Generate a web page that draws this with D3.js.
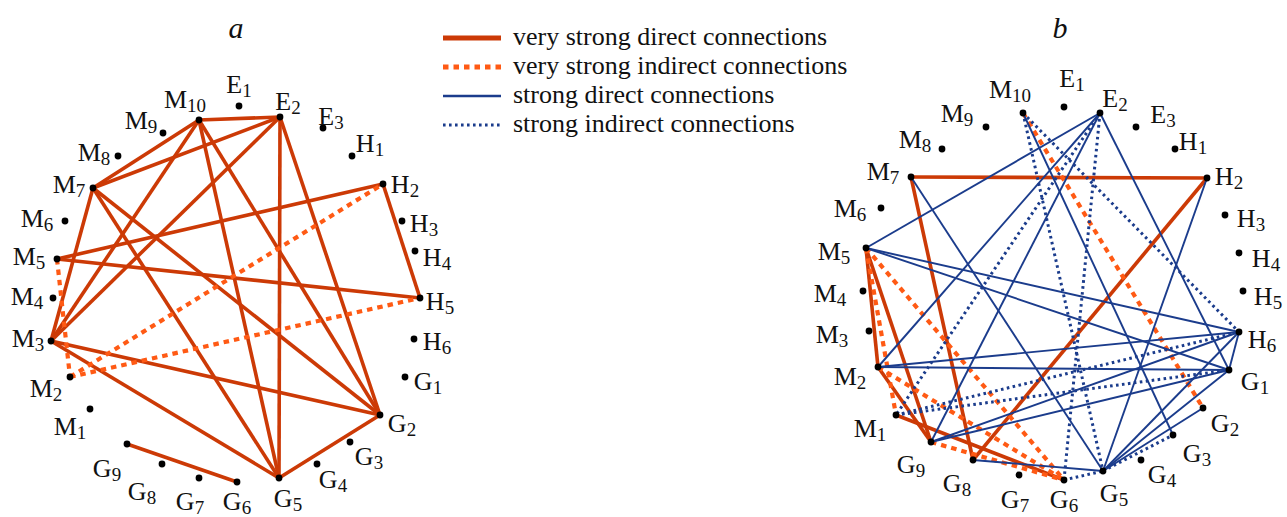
<!DOCTYPE html>
<html><head><meta charset="utf-8">
<script src="https://cdn.jsdelivr.net/npm/d3@7"></script>
<style>
body{margin:0;background:#fff}
svg text{font-family:"Liberation Serif","Times New Roman",serif;fill:#111}
</style>
</head><body>
<svg id="chart" width="1287" height="517"></svg>
<script>
// ---------- data ----------
const nodeIds = ["M1","M2","M3","M4","M5","M6","M7","M8","M9","M10","E1","E2","E3","H1","H2","H3","H4","H5","H6","G1","G2","G3","G4","G5","G6","G7","G8","G9"];
// node layout (units relative to panel centre)
const layoutA = [[-146,109],[-166,77],[-185,41],[-183,-2],[-179,-41],[-171,-79],[-143,-112],[-118,-144],[-73,-167],[-37,-180],[3,-194],[44,-183],[87,-172],[116,-144],[147,-116],[166,-79],[179,-49],[184,-2],[178,39],[169,77],[144,115],[114,142],[81,164],[43,178],[1,182],[-37,178],[-74,164],[-109,144]];
const layoutB = [[-158,120],[-176,72],[-185,36],[-191,-4],[-188,-47],[-173,-87],[-143,-118],[-112,-146],[-68,-168],[-31,-182],[10,-188],[46,-182],[82,-168],[121,-146],[153,-117],[171,-80],[185,-42],[189,-4],[185,37],[175,75],[149,113],[119,140],[87,165],[49,176],[10,185],[-35,180],[-81,165],[-123,147]];
// label offsets (centre x, baseline y) relative to node
const labelA = [[-20,26],[-24,20],[-23,6],[-26,7],[-28,6],[-28,6],[-24,5],[-24,5],[-22,-4],[-14,-12],[0,-13],[8,-7],[8,-3],[18,-4],[22,9],[22,11],[22,15],[20,12],[23,11],[23,13],[22,17],[19,23],[16,24],[9,29],[0,28],[-9,32],[-20,36],[-20,33]];
const labelB = [[-26,22],[-28,18],[-37,12],[-33,11],[-32,12],[-31,9],[-28,3],[-27,-1],[-29,-5],[-13,-15],[8,-20],[15,-6],[27,-4],[18,1],[22,7],[26,12],[27,14],[25,14],[23,16],[26,20],[22,24],[24,27],[21,23],[11,31],[0,28],[-4,33],[-16,32],[-20,31]];

const edgesA_veryStrongDirect = [["M10","E2"],["M10","M7"],["M10","M3"],["M10","G5"],["M10","G2"],["E2","M7"],["E2","M3"],["E2","G5"],["E2","G2"],["M7","M3"],["M7","G5"],["M7","G2"],["M5","H2"],["M5","H5"],["M3","G2"],["M3","G5"],["H2","H5"],["G9","G6"],["G5","G2"]];
const edgesA_veryStrongIndirect = [["M5","M2"],["M2","H2"],["M2","H5"]];
const edgesA_strongDirect = [];
const edgesA_strongIndirect = [];

const edgesB_veryStrongDirect = [["M7","H2"],["M7","G8"],["H2","G8"],["M5","M2"],["M5","G9"],["M2","G9"],["M1","G6"]];
const edgesB_veryStrongIndirect = [["M10","G2"],["M5","M1"],["M5","G6"],["M2","G6"],["G9","G6"]];
const edgesB_strongDirect = [["M5","E2"],["M5","H6"],["M5","G1"],["M7","G5"],["M10","G3"],["E2","G1"],["E2","M2"],["E2","G9"],["H2","G5"],["H6","G1"],["M2","G1"],["M2","H6"],["G9","H6"],["G9","G1"],["G8","G5"],["G5","G2"],["G5","H6"],["G5","G1"]];
const edgesB_strongIndirect = [["M10","H6"],["M10","G5"],["E2","G6"],["E2","M1"],["M1","H6"],["M1","G1"],["G5","G3"],["G6","G5"]];

const legendLabels = ["very strong direct connections","very strong indirect connections","strong direct connections","strong indirect connections"];
const panelTitles = ["a","b"];

// ---------- styles ----------
const styles = [
  {stroke:"#cc3a06", width:3.6, legendWidth:5, dash:null},
  {stroke:"#ff5a14", width:4.2, legendWidth:5, dash:"5.5,5"},
  {stroke:"#1b3c8c", width:1.9, legendWidth:2.6, dash:null},
  {stroke:"#1b3c8c", width:3, legendWidth:3, dash:"2.6,3.4"}
];

const svg = d3.select("#chart");

function drawPanel(cx, cy, layout, labels, edgeSets, title){
  const x = d3.scaleLinear().domain([-250,250]).range([cx-250,cx+250]);
  const y = d3.scaleLinear().domain([-250,250]).range([cy-250,cy+250]);
  const nodes = nodeIds.map((id,i)=>({id, x:x(layout[i][0]), y:y(layout[i][1]), lx:labels[i][0], ly:labels[i][1]}));
  const byId = new Map(nodes.map(n=>[n.id,n]));
  const g = svg.append("g");
  edgeSets.forEach((set,k)=>{
    const st = styles[k];
    g.append("g").selectAll("line").data(set).join("line")
      .attr("x1",d=>byId.get(d[0]).x).attr("y1",d=>byId.get(d[0]).y)
      .attr("x2",d=>byId.get(d[1]).x).attr("y2",d=>byId.get(d[1]).y)
      .attr("stroke",st.stroke).attr("stroke-width",st.width)
      .attr("stroke-dasharray",st.dash);
  });
  g.append("g").selectAll("circle").data(nodes).join("circle")
    .attr("cx",d=>d.x).attr("cy",d=>d.y).attr("r",3.4).attr("fill","#000");
  const t = g.append("g").selectAll("text").data(nodes).join("text")
    .attr("x",d=>d.x+d.lx).attr("y",d=>d.y+d.ly).attr("text-anchor","middle")
    .style("font-size","26px");
  t.append("tspan").text(d=>d.id[0]);
  t.append("tspan").attr("dy",4).style("font-size","19px").text(d=>d.id.slice(1));
  svg.append("text").attr("x",x(0)+(title==="a"?0:6)).attr("y",38).attr("text-anchor","middle")
    .style("font-size","30px").style("font-style","italic").text(title);
}

drawPanel(236,300,layoutA,labelA,[edgesA_veryStrongDirect,edgesA_veryStrongIndirect,edgesA_strongDirect,edgesA_strongIndirect],panelTitles[0]);
drawPanel(1054,295,layoutB,labelB,[edgesB_veryStrongDirect,edgesB_veryStrongIndirect,edgesB_strongDirect,edgesB_strongIndirect],panelTitles[1]);

// legend
const ly = d3.scaleBand().domain(legendLabels).range([23.5,139.5]);
const leg = svg.append("g");
legendLabels.forEach((lab,i)=>{
  const yy = ly(lab)+ly.bandwidth()/2;
  const st = styles[i];
  leg.append("line").attr("x1",443).attr("x2",501).attr("y1",yy).attr("y2",yy)
    .attr("stroke",st.stroke).attr("stroke-width",st.legendWidth).attr("stroke-dasharray",st.dash);
  leg.append("text").attr("x",513).attr("y",yy+7).style("font-size","26px").text(lab);
});
</script>
</body></html>
